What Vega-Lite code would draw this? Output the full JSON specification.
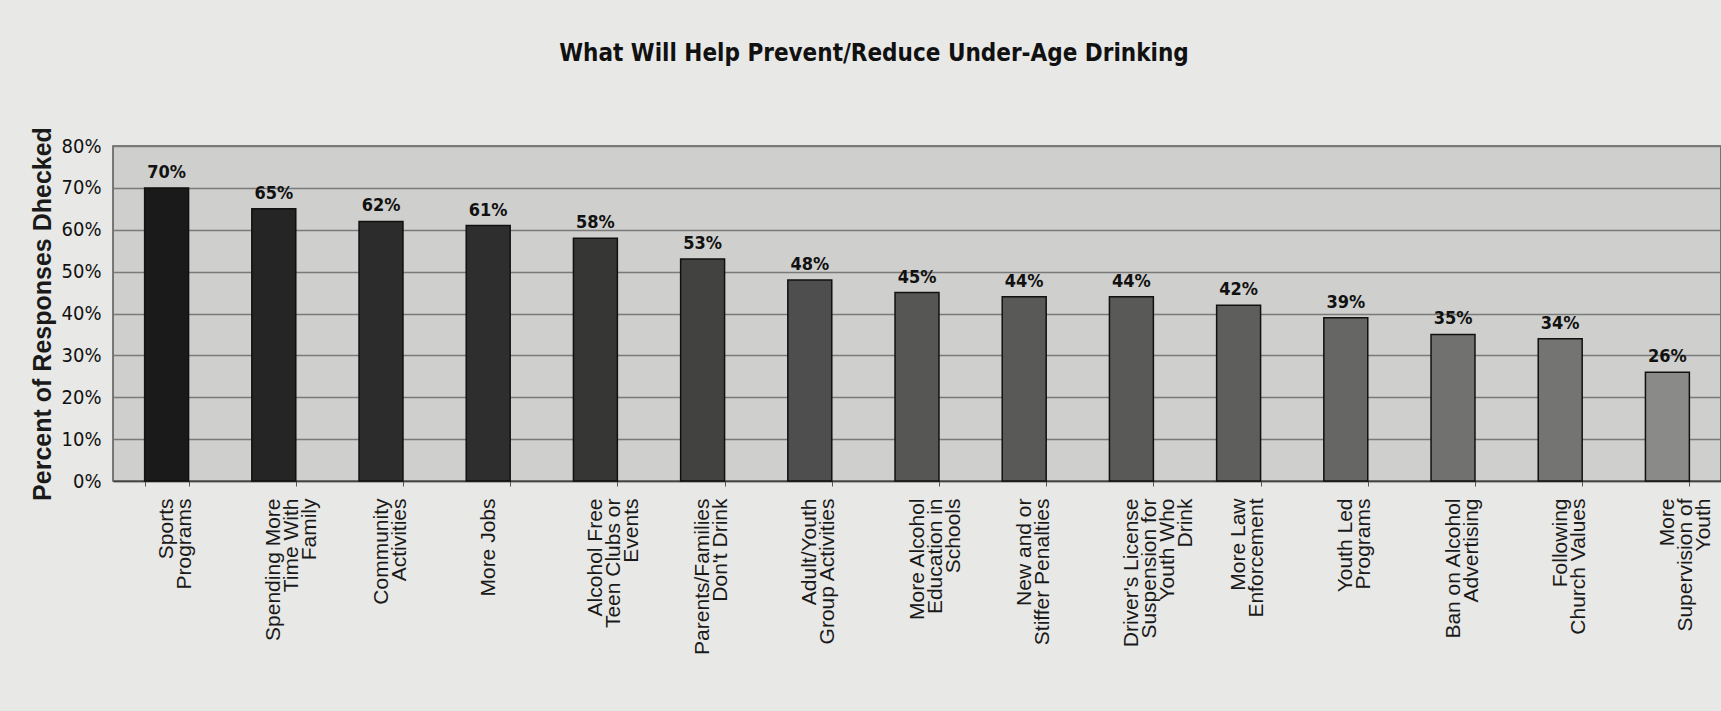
{
  "$schema": "https://vega.github.io/schema/vega-lite/v6.json",
  "autosize": {"type": "none"},
  "padding": {"left": 113, "top": 146, "right": 0, "bottom": 230},
  "width": 1608,
  "height": 335,
  "background": "#e8e8e6",
  "title": {
    "text": "What Will Help Prevent/Reduce Under-Age Drinking",
    "font": "DejaVu Sans Condensed",
    "fontSize": 24,
    "fontWeight": "bold",
    "color": "#111111",
    "anchor": "middle",
    "dx": -43,
    "dy": 9,
    "offset": 70
  },
  "data": {
    "values": [
      {"measure": "Sports|Programs", "share": 0.70},
      {"measure": "Spending More|Time With|Family", "share": 0.65},
      {"measure": "Community|Activities", "share": 0.62},
      {"measure": "More Jobs", "share": 0.61},
      {"measure": "Alcohol Free|Teen Clubs or|Events", "share": 0.58},
      {"measure": "Parents/Families|Don't Drink", "share": 0.53},
      {"measure": "Adult/Youth|Group Activities", "share": 0.48},
      {"measure": "More Alcohol|Education in|Schools", "share": 0.45},
      {"measure": "New and or|Stiffer Penalties", "share": 0.44},
      {"measure": "Driver's License|Suspension for|Youth Who|Drink", "share": 0.44},
      {"measure": "More Law|Enforcement", "share": 0.42},
      {"measure": "Youth Led|Programs", "share": 0.39},
      {"measure": "Ban on Alcohol|Advertising", "share": 0.35},
      {"measure": "Following|Church Values", "share": 0.34},
      {"measure": "More|Supervision of|Youth", "share": 0.26}
    ]
  },
  "config": {
    "view": {"fill": "#cfcfcd", "stroke": "#555555", "strokeWidth": 1.5},
    "axis": {"gridColor": "#7a7a7a", "gridOpacity": 1, "gridWidth": 1.5}
  },
  "encoding": {
    "x": {
      "field": "measure",
      "type": "nominal",
      "sort": null,
      "scale": {"paddingInner": 0.59, "paddingOuter": 0.295},
      "axis": {
        "title": null,
        "labelExpr": "split(datum.label, '|')",
        "labelAngle": -90,
        "labelAlign": "right",
        "labelBaseline": "middle",
        "labelFont": "Liberation Sans",
        "labelFontSize": 21,
        "labelLineHeight": 18,
        "labelColor": "#1a1a1a",
        "labelPadding": 12,
        "labelOverlap": false,
        "labelLimit": 400,
        "ticks": true,
        "tickBand": "extent",
        "tickColor": "#555555",
        "tickSize": 5,
        "domainColor": "#444444",
        "domainWidth": 1.5,
        "grid": false
      }
    }
  },
  "layer": [
    {
      "mark": {"type": "bar", "stroke": "#111111", "strokeWidth": 1.5},
      "encoding": {
        "y": {
          "field": "share",
          "type": "quantitative",
          "scale": {"domain": [0, 0.8], "nice": false},
          "axis": {
            "title": "Percent of Responses Dhecked",
            "titleFont": "Liberation Sans",
            "titleFontSize": 25,
            "titleFontWeight": "bold",
            "titleColor": "#1a1a1a",
            "titlePadding": 6,
            "values": [0, 0.1, 0.2, 0.3, 0.4, 0.5, 0.6, 0.7, 0.8],
            "format": ".0%",
            "labelFont": "DejaVu Sans Condensed",
            "labelFontSize": 20,
            "labelColor": "#111111",
            "labelPadding": 12,
            "ticks": false,
            "domain": false,
            "grid": true
          }
        },
        "color": {
          "field": "share",
          "type": "quantitative",
          "scale": {"domain": [0.26, 0.7], "range": ["#8a8a88", "#1a1a1a"]},
          "legend": null
        }
      }
    },
    {
      "mark": {
        "type": "text",
        "baseline": "bottom",
        "dy": -6,
        "font": "DejaVu Sans Condensed",
        "fontSize": 18,
        "fontWeight": "bold",
        "color": "#111111"
      },
      "encoding": {
        "y": {"field": "share", "type": "quantitative"},
        "text": {"field": "share", "type": "quantitative", "format": ".0%"}
      }
    }
  ]
}
